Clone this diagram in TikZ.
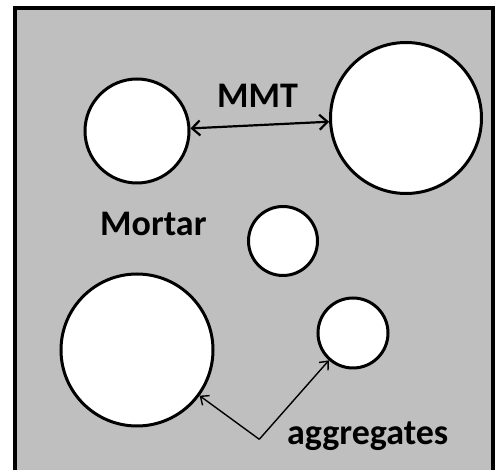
\documentclass[tikz,border=0pt]{standalone}
\usepackage{fontspec}
\setmainfont{Carlito}
\usetikzlibrary{arrows.meta}
\definecolor{mortar}{RGB}{191,191,191}
\begin{document}
\begin{tikzpicture}[x=1pt,y=-1pt,
  agg/.style={circle,draw=black,fill=white,line width=3pt,inner sep=0pt,minimum size=#1},
  lbl/.style={anchor=base west,inner sep=0pt,font=\fontsize{36}{43}\selectfont\bfseries,text=black},
  bigarrow/.style={line width=2.2pt,{Straight Barb[length=8pt,width=15pt]}-{Straight Barb[length=8pt,width=15pt]}},
  thinarrow/.style={line width=1.4pt,-{Straight Barb[length=7pt,width=12pt]}}]
\useasboundingbox (0,0) rectangle (499,470);
\clip (0,0) rectangle (499,470);
\draw[fill=mortar,line width=4pt] (14.7,7.8) rectangle (493,474);
\node[agg=104pt] (A) at (137,131) {};
\node[agg=151pt] (B) at (406,118) {};
\node[agg=69pt] (C) at (283,241) {};
\node[agg=152pt] (D) at (137,350) {};
\node[agg=70pt] (E) at (353,333) {};
\node[lbl] (mmt) at (217,108) {MMT};
\node[lbl] (mortar) at (100,235.7) {Mortar};
\node[lbl] (aggr) at (287,445) {aggregates};
\coordinate (V) at (259.3,439.3);
\draw[bigarrow] (A) -- (B);
\draw[thinarrow] (V) -- (D);
\draw[thinarrow] (V) -- (E);
\end{tikzpicture}
\end{document}
